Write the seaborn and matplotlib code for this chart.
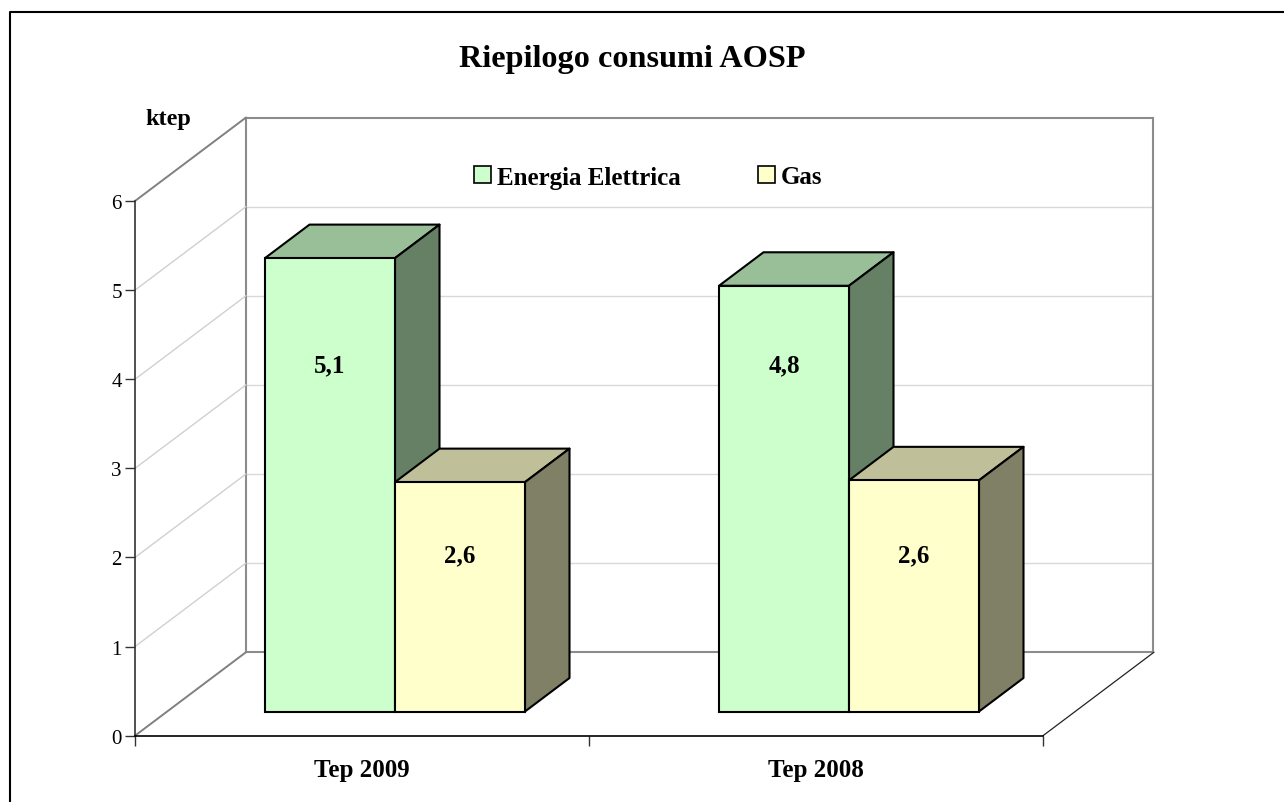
import numpy as np
import pandas as pd
import matplotlib
matplotlib.use("Agg")
import matplotlib.pyplot as plt
from matplotlib.patches import Polygon, Rectangle
from matplotlib.lines import Line2D
import seaborn as sns

# ---- data ----
periods = ["Tep 2009", "Tep 2008"]
sources = ["Energia Elettrica", "Gas"]
electric = [5.08, 4.77]
gas = [2.57, 2.59]
y_ticks = [0, 1, 2, 3, 4, 5, 6]
title = "Riepilogo consumi AOSP"
unit = "ktep"

# ---- styling / layout (pixels) ----
W, H = 1284, 803
front_colors = {"Energia Elettrica": "#CCFFCC", "Gas": "#FFFFCC"}
top_colors = {"Energia Elettrica": "#99BF99", "Gas": "#BFBF99"}
side_colors = {"Energia Elettrica": "#668066", "Gas": "#808066"}
PX_PER_UNIT = 89.25
GROUP_LEFT, GROUP_STEP, BAR_W = 395.0, 454.0, 130.0
BAR_BASE = 712.5
BAR_DX, BAR_DY = 44.5, 33.5
WALL_DX, WALL_DY = 111.0, 83.5
FRONT = (135.0, 202.0, 908.0, 534.7)
LABEL_PX = {"Energia Elettrica": 365.5, "Gas": 556}

sns.set_theme(style="white")
plt.rcParams["font.family"] = ["Liberation Serif", "DejaVu Serif"]
plt.rcParams["axes.unicode_minus"] = False
plt.rcParams["text.color"] = "black"
plt.rcParams["xtick.labelcolor"] = "black"
plt.rcParams["ytick.labelcolor"] = "black"

fig = plt.figure(figsize=(W / 100, H / 100), dpi=100, facecolor="white")


def axes_px(x, y, w, h, **kw):
    return fig.add_axes([x / W, 1 - (y + h) / H, w / W, h / H], **kw)


def fig_pt(x, y):
    return x / W, 1 - y / H


# back wall with gridlines
ax_back = axes_px(FRONT[0] + WALL_DX, FRONT[1] - WALL_DY, FRONT[2] - 1, FRONT[3], zorder=1)
ax_back.set_xlim(0, 1)
ax_back.set_ylim(y_ticks[0], y_ticks[-1])
ax_back.set_xticks([])
ax_back.set_yticks(y_ticks[1:-1])
ax_back.set_yticklabels([])
ax_back.tick_params(length=0)
ax_back.grid(axis="y", color="#D9D9D9", lw=1.0)
ax_back.set_axisbelow(True)
for s in ax_back.spines.values():
    s.set_color("#8C8C8C")
    s.set_linewidth(1.5)

# front plane: value axis, category axis
ax_front = axes_px(*FRONT, zorder=2)
ax_front.patch.set_alpha(0)
ax_front.set_xlim(0, len(periods))
ax_front.set_ylim(y_ticks[0], y_ticks[-1])
ax_front.set_yticks(y_ticks)
ax_front.set_xticks(range(len(periods) + 1))
ax_front.set_xticklabels([])
ax_front.set_xticks(np.arange(len(periods)) + 0.5, labels=periods, minor=True)
ax_front.tick_params(axis="x", which="minor", length=0, bottom=False, pad=16, labelsize=18)
for lab in ax_front.get_xticklabels(minor=True):
    lab.set_fontweight("bold")
ax_front.tick_params(axis="x", which="major", length=7.5, width=1, color="#333333", direction="out", bottom=True)
ax_front.tick_params(axis="y", length=7, width=1, color="#333333", direction="out", labelsize=15, pad=2.5, left=True)
ax_front.grid(False)
for side in ("top", "right"):
    ax_front.spines[side].set_visible(False)
ax_front.spines["left"].set_color("#333333")
ax_front.spines["bottom"].set_color("black")
ax_front.spines["left"].set_linewidth(1.2)
ax_front.spines["bottom"].set_linewidth(1.2)

# oblique wall gridlines via the same tick values
x0, y_top, w_front, h_front = FRONT
for v in y_ticks:
    yy = y_top + h_front * (1 - v / y_ticks[-1])
    if v in (y_ticks[0], y_ticks[-1]):
        col, lw = "#808080", 1.4
    else:
        col, lw = "#D0D0D0", 1.0
    fig.add_artist(Line2D(*zip(fig_pt(x0, yy), fig_pt(x0 + WALL_DX, yy - WALL_DY)), color=col, lw=lw, zorder=1.5))
fig.add_artist(Line2D(*zip(fig_pt(x0 + w_front, y_top + h_front), fig_pt(x0 + w_front + WALL_DX, y_top + h_front - WALL_DY)),
                      color="#222222", lw=0.9, zorder=1.5))

# bars
ax = fig.add_axes([0, 0, 1, 1], zorder=3)
ax.patch.set_alpha(0)
df = pd.DataFrame({
    "Periodo": periods * 2,
    "Fonte": [sources[0]] * 2 + [sources[1]] * 2,
    "ktep": electric + gas,
})
sns.barplot(data=df, x="Periodo", y="ktep", hue="Fonte", order=periods, hue_order=sources,
            palette=front_colors, width=2 * BAR_W / GROUP_STEP, gap=0, saturation=1,
            edgecolor="black", linewidth=1.5, errorbar=None, legend=False, ax=ax, zorder=5)
ax.set_xlim(-GROUP_LEFT / GROUP_STEP, (W - GROUP_LEFT) / GROUP_STEP)
ax.set_ylim(-(H - BAR_BASE) / PX_PER_UNIT, BAR_BASE / PX_PER_UNIT)
ax.axis("off")

dx = BAR_DX / GROUP_STEP
dy = BAR_DY / PX_PER_UNIT
bars = [b for b in ax.patches if isinstance(b, Rectangle)]
bars = bars[:len(df)]
bars = sorted(bars, key=lambda b: b.get_x())
src_cycle = [sources[0], sources[1]] * len(periods)
vals_all = [v for pair in zip(electric, gas) for v in pair]
for i, (b, src, v) in enumerate(zip(bars, src_cycle, vals_all)):
    xl, xr = b.get_x(), b.get_x() + b.get_width()
    h = b.get_height()
    b.set_zorder(10 + 3 * i)
    ax.add_patch(Polygon([(xl, h), (xr, h), (xr + dx, h + dy), (xl + dx, h + dy)], closed=True,
                         facecolor=top_colors[src], edgecolor="black", lw=1.5, zorder=9 + 3 * i, joinstyle="round"))
    ax.add_patch(Polygon([(xr, 0), (xr + dx, dy), (xr + dx, h + dy), (xr, h)], closed=True,
                         facecolor=side_colors[src], edgecolor="black", lw=1.5, zorder=9 + 3 * i, joinstyle="round"))
    label_y = (BAR_BASE - LABEL_PX[src]) / PX_PER_UNIT
    ax.text(xl + b.get_width() / 2, label_y, f"{v:.1f}".replace(".", ","), ha="center", va="center",
            fontsize=18, fontweight="bold", color="black", zorder=60)

# legend
handles = [Rectangle((0, 0), 1, 1, facecolor=front_colors[s], edgecolor="black", lw=1.2) for s in sources]
fig.legend(handles, sources, ncol=2, loc="center", bbox_to_anchor=fig_pt(648, 178),
           frameon=False, labelcolor="black", prop={"size": 18, "weight": "bold", "family": "Liberation Serif"},
           handlelength=0.68, handleheight=0.68, handletextpad=0.24, columnspacing=3.08)

# texts
fig.text(*fig_pt(632, 60), title, ha="center", va="center", fontsize=23.2, fontweight="bold", color="black")
fig.text(*fig_pt(168, 120), unit, ha="center", va="center", fontsize=17.5, fontweight="bold", color="black")

# outer frame: only the top and left edges show
fig.add_artist(Line2D(*zip(fig_pt(10, H), fig_pt(10, 13), fig_pt(W, 13)), color="black", lw=1.5))

fig.savefig("out.png", dpi=100, facecolor="white")
